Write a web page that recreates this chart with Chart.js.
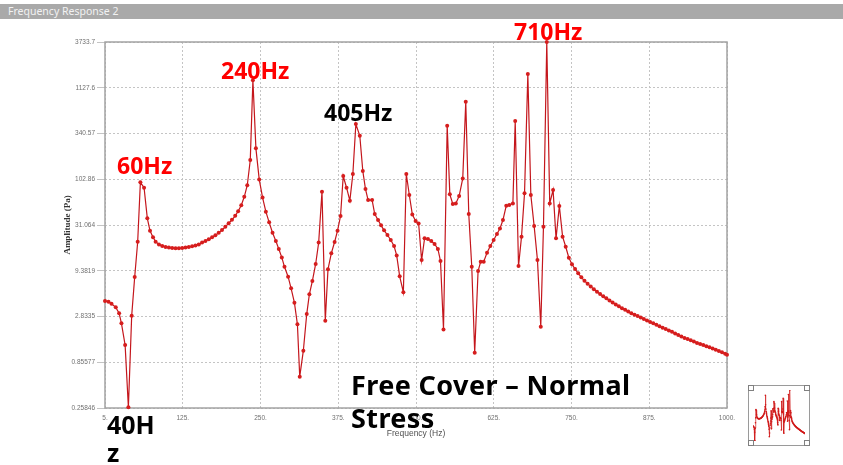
<!DOCTYPE html>
<html>
<head>
<meta charset="utf-8">
<title>Frequency Response 2</title>
<script src="https://cdn.jsdelivr.net/npm/chart.js@4.4.0/dist/chart.umd.min.js"></script>
<style>
  body { margin: 0; background: #fff; width: 843px; height: 465px; overflow: hidden; position: relative; }
  #bar { position: absolute; left: 0; top: 4px; width: 843px; height: 15px; background: #a9a9a9;
         color: #f2f2f2; font: 10.5px "Noto Sans", sans-serif; line-height: 15px; padding-left: 8px; box-sizing: border-box; }
  #main { position: absolute; left: 0; top: 0; }
  .note { position: absolute; font-family: "Noto Sans", sans-serif; font-weight: bold; white-space: nowrap; }
  .red { color: #ff0000; }
  #thumb { position: absolute; left: 748px; top: 385px; width: 60px; height: 59px; border: 1px solid #9a9a9a; }
  #thumb canvas { position: absolute; left: 0; top: 0; }
  .h { position: absolute; width: 4px; height: 4px; border: 1px solid #808080; background: #fff; }
</style>
</head>
<body>
<div id="bar">Frequency Response 2</div>
<canvas id="main" width="843" height="465"></canvas>

<div class="note red" style="left:117px; top:154px; font-size:23px; line-height:23px;">60Hz</div>
<div class="note red" style="left:221px; top:59px; font-size:23px; line-height:23px;">240Hz</div>
<div class="note" style="left:324px; top:101px; font-size:23px; line-height:23px;">405Hz</div>
<div class="note red" style="left:514px; top:20px; font-size:23px; line-height:23px;">710Hz</div>
<div class="note" style="left:107px; top:411px; font-size:25px; line-height:27.5px;">40H<br>z</div>
<div class="note" style="left:351px; top:368px; font-size:27px; line-height:33.3px; letter-spacing:0.4px;">Free Cover &#8211; Normal<br>Stress</div>

<div id="thumb">
  <canvas id="mini" width="60" height="59"></canvas>
  <div class="h" style="left:-1px; top:-1px;"></div>
  <div class="h" style="right:-1px; top:-1px;"></div>
  <div class="h" style="left:-1px; bottom:-1px;"></div>
  <div class="h" style="right:-1px; bottom:-1px;"></div>
</div>

<script>
// frequency (Hz) and amplitude (Pa)
const freq = [
  5, 10.6, 15.4, 22.2, 27.6, 31.3, 37.2, 42.4, 47.7, 52.5, 57.3, 61.6, 67.5, 72.7, 77, 81.8,
  86, 91.3, 96.6, 101.9, 107.2, 112.5, 117.9, 123.2, 128.5, 133.8, 139.1, 144.4, 149.7, 155,
  160.3, 165.7, 171, 176.3, 181.6, 186.9, 192.2, 197.5, 202.8, 208.1, 213.3, 218, 223, 227.8,
  232.6, 237.4, 241.6, 246.4, 251.7, 257, 262.3, 267.6, 273, 278.3, 283, 287.8, 292.1, 297.9,
  302.7, 308, 312.8, 316.5, 322.3, 327.7, 331.9, 336.7, 342, 346.8, 352.1, 357.4, 361.7, 367,
  372.3, 377, 381.8, 386.1, 391.4, 396.7, 401.5, 406.3, 412.6, 417.4, 421.7, 425.9, 432.3,
  436.5, 441.8, 446.6, 451.4, 456.8, 462.1, 467.4, 471.6, 476.4, 482.3, 487, 491.8, 496.6,
  501.9, 506.7, 511.5, 516.2, 521.6, 526.9, 532.2, 537.5, 541.7, 546.5, 552.4, 556.6, 561.4,
  566.2, 571.5, 577.3, 582.1, 586.9, 591.7, 596.4, 601.8, 606, 610.8, 616.1, 621.4, 626.7,
  632, 636.8, 641.6, 646.9, 651.7, 657.5, 661.2, 666.5, 671.3, 676.1, 681.4, 686.2, 691.5,
  696.8, 702.1, 706.4, 711.7, 716.4, 721.8, 726.5, 731.8, 737, 742, 747, 752, 757, 762, 767,
  772, 777, 782, 787, 792, 797, 802, 807, 812, 817, 822, 827, 832, 837, 842, 847, 852, 857,
  862, 867, 872, 877, 882, 887, 892, 897, 902, 907, 912, 917, 922, 927, 932, 937, 942, 947,
  952, 957, 962, 967, 972, 977, 982, 987, 992, 997, 1000
];
const amp = [
  4.25, 4.17, 3.96, 3.60, 3.08, 2.37, 1.34, 0.263, 2.89, 7.96, 20.0, 94.9, 82.4, 37.0, 26.7, 22.5,
  20.1, 18.7, 17.9, 17.5, 17.2, 17.0, 16.9, 16.9, 17.0, 17.2, 17.5, 17.8, 18.2, 18.7,
  19.6, 20.5, 21.4, 22.5, 23.8, 25.3, 27.3, 29.6, 32.5, 35.6, 39.5, 44.5, 52, 65,
  88, 170, 1370, 231, 102.5, 64.0, 44.0, 33.3, 25.4, 20.4, 16.6, 13.3, 10.4, 8.03,
  5.92, 4.07, 2.31, 0.587, 1.16, 3.02, 5.06, 7.17, 11.2, 19.6, 74.3, 2.54, 9.73, 14.8,
  19.9, 26.8, 39.3, 111.9, 82.4, 58.7, 117.9, 436, 321, 127.5, 79.6, 59.7, 59.7,
  41.4, 35.4, 30.8, 27.0, 23.9, 21.0, 17.9, 14.0, 8.1, 5.33, 117.9, 68.1, 41.0,
  34.5, 32.4, 12.4, 21.9, 21.5, 20.4, 18.9, 16.6, 12.1, 2.02, 417.6, 69.3, 53.8,
  54.7, 66.3, 105.2, 782, 41.4, 10.4, 1.10, 9.31, 11.9, 11.9, 15.0, 17.9, 21.0,
  24.5, 28.4, 35.4, 51.5, 52.4, 54.7, 472, 10.6, 22.9, 71.1, 1614, 68.1, 30.2,
  12.4, 2.17, 29.7, 3733.7, 54.7, 77.6, 21.9, 51.1, 22.9, 17.6, 13.2, 11.1, 9.81, 8.76, 7.89,
  7.23, 6.69, 6.21, 5.77, 5.43, 5.10, 4.80, 4.56, 4.31, 4.09, 3.88, 3.70, 3.52, 3.37, 3.22, 3.09, 2.97, 2.87,
  2.76, 2.65, 2.56, 2.46, 2.37, 2.28, 2.19, 2.11, 2.04, 1.97, 1.90, 1.82, 1.75, 1.68, 1.61, 1.57, 1.52, 1.47,
  1.42, 1.38, 1.34, 1.30, 1.27, 1.23, 1.19, 1.15, 1.11, 1.07, 1.04
];

// axis ticks as the plot shows them
const yTicks = [0.25846, 0.85577, 2.8335, 9.3819, 31.064, 102.86, 340.57, 1127.6, 3733.7];
const yTickLabels = ['0.25846', '0.85577', '2.8335', '9.3819', '31.064', '102.86', '340.57', '1127.6', '3733.7'];
const xTicks = [5, 129.375, 253.75, 378.125, 502.5, 626.875, 751.25, 875.625, 1000];
const xTickLabels = ['5.', '125.', '250.', '375.', '500.', '625.', '750.', '875.', '1000.'];

const points = freq.map((f, i) => ({ x: f, y: amp[i] }));

// grey box round the plot area
const frame = {
  id: 'frame',
  beforeDatasetsDraw(chart) {
    const { ctx, chartArea: a } = chart;
    ctx.save();
    ctx.strokeStyle = '#a3a3a3';
    ctx.lineWidth = 1.5;
    ctx.strokeRect(a.left, a.top, a.right - a.left, a.bottom - a.top);
    ctx.restore();
  }
};

new Chart(document.getElementById('main'), {
  type: 'line',
  data: {
    datasets: [{
      data: points,
      borderColor: '#c4161c',
      borderWidth: 1.2,
      pointRadius: 2,
      pointBackgroundColor: '#d61d1d',
      pointBorderWidth: 0,
      tension: 0,
      clip: false
    }]
  },
  options: {
    responsive: false,
    animation: false,
    devicePixelRatio: 1,
    layout: { padding: { left: 62, top: 42, right: 116, bottom: 26 } },
    plugins: { legend: { display: false }, tooltip: { enabled: false } },
    scales: {
      x: {
        type: 'linear',
        min: 5,
        max: 1000,
        afterBuildTicks: s => { s.ticks = xTicks.map(v => ({ value: v })); },
        afterFit: s => { s.height = 31; },
        ticks: {
          autoSkip: false, maxRotation: 0, padding: 6,
          color: '#707070', font: { family: 'Liberation Sans', size: 6.5 },
          callback: (v, i) => xTickLabels[i]
        },
        grid: { color: '#c4c4c4', drawTicks: false },
        border: { display: false, dash: [2, 2] },
        title: {
          display: true, text: 'Frequency (Hz)', color: '#505050',
          font: { family: 'Liberation Sans', size: 8.5 }, padding: 0
        }
      },
      y: {
        type: 'logarithmic',
        min: 0.25846,
        max: 3733.7,
        afterBuildTicks: s => { s.ticks = yTicks.map(v => ({ value: v })); },
        afterFit: s => { s.width = 43; },
        ticks: {
          autoSkip: false, padding: 2,
          color: '#707070', font: { family: 'Liberation Sans', size: 6.5 },
          callback: (v, i) => yTickLabels[i]
        },
        grid: { color: '#c4c4c4', drawTicks: true, tickLength: 8 },
        border: { display: false, dash: [2, 2] },
        title: {
          display: true, text: 'Amplitude (Pa)', color: '#333',
          font: { family: 'Liberation Serif', size: 9, weight: 'bold' }, padding: 0
        }
      }
    }
  },
  plugins: [frame]
});

// small overview in the corner
new Chart(document.getElementById('mini'), {
  type: 'line',
  data: {
    datasets: [{
      data: points,
      borderColor: '#d01a1a',
      borderWidth: 0.7,
      pointRadius: 0.8,
      pointBackgroundColor: '#d01a1a',
      pointBorderWidth: 0,
      tension: 0
    }]
  },
  options: {
    responsive: false,
    animation: false,
    devicePixelRatio: 1,
    layout: { padding: 1 },
    plugins: { legend: { display: false }, tooltip: { enabled: false } },
    scales: {
      x: { type: 'linear', min: 5, max: 1000, display: false },
      y: { type: 'logarithmic', min: 0.25846, max: 3733.7, display: false }
    }
  }
});
</script>
</body>
</html>
